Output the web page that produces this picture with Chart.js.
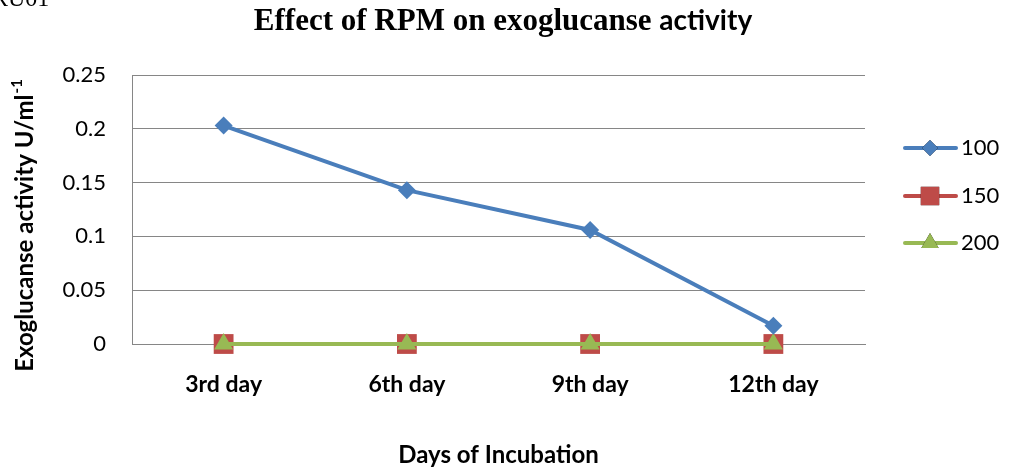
<!DOCTYPE html>
<html>
<head>
<meta charset="utf-8">
<script src="https://cdn.jsdelivr.net/npm/chart.js@4/dist/chart.umd.min.js"></script>
<style>
  html, body { margin: 0; padding: 0; background: #fff; }
  #wrap { width: 1013px; height: 471px; position: relative; }
</style>
</head>
<body>
<div id="wrap"><canvas id="c" width="1013" height="471"></canvas></div>
<script>
const categories = ['3rd day', '6th day', '9th day', '12th day'];
const seriesLabels = ['100', '150', '200'];
const rpm100 = [0.203, 0.143, 0.106, 0.017];
const rpm150 = [0, 0, 0, 0];
const rpm200 = [0, 0, 0, 0];
const yTicks = [0, 0.05, 0.1, 0.15, 0.2, 0.25];
const yTickLabels = ['0', '0.05', '0.1', '0.15', '0.2', '0.25'];

const chartTitleSerif = 'Effect of RPM on exoglucanse';
const chartTitleSans = 'activity';
const yTitleMain = 'Exoglucanse activity U/ml';
const yTitleSup = '-1';
const xTitle = 'Days of Incubation';
const cornerText = 'RU01';

const SANS = 'Lato, "Open Sans", sans-serif';
const SERIF = '"Liberation Serif", "Times New Roman", serif';

const decorPlugin = {
  id: 'decor',
  afterDraw(chart) {
    const ctx = chart.ctx;
    ctx.save();
    // corner fragment text
    ctx.fillStyle = '#000';
    ctx.font = '24px ' + SERIF;
    ctx.textBaseline = 'alphabetic';
    ctx.textAlign = 'left';
    ctx.fillText(cornerText, -8, 6);

    // mixed-font title
    const f1 = 'bold 31px ' + SERIF;
    const f2 = 'bold 28px ' + SANS;
    ctx.font = f1;
    const w1 = ctx.measureText(chartTitleSerif + ' ').width;
    ctx.font = f2;
    const w2 = ctx.measureText(chartTitleSans).width;
    const cx = 503;
    let x0 = cx - (w1 + w2) / 2;
    ctx.textBaseline = 'alphabetic';
    ctx.font = f1;
    ctx.fillText(chartTitleSerif + ' ', x0, 30);
    ctx.font = f2;
    ctx.fillText(chartTitleSans, x0 + w1, 30);

    // y axis title with superscript
    ctx.translate(25, 226);
    ctx.rotate(-Math.PI / 2);
    const fm = 'bold 24px ' + SANS;
    const fs = 'bold 15px ' + SANS;
    ctx.font = fm;
    const wm = ctx.measureText(yTitleMain).width;
    ctx.font = fs;
    const ws = ctx.measureText(yTitleSup).width;
    const sx = -(wm + ws) / 2;
    ctx.textBaseline = 'middle';
    ctx.font = fm;
    ctx.fillText(yTitleMain, sx, 0);
    ctx.font = fs;
    ctx.fillText(yTitleSup, sx + wm + 1, -8);
    ctx.setTransform(1, 0, 0, 1, 0, 0);

    // legend (line + marker)
    const legendYs = [148, 196, 243];
    chart.data.datasets.forEach((ds, i) => {
      const y = legendYs[i];
      ctx.strokeStyle = ds.borderColor;
      ctx.lineWidth = 4;
      ctx.lineCap = 'round';
      ctx.beginPath();
      ctx.moveTo(905, y);
      ctx.lineTo(956, y);
      ctx.stroke();
      Chart.helpers.drawPoint(ctx, {
        pointStyle: ds.pointStyle,
        radius: ds.legendRadius,
        borderWidth: 0,
        rotation: 0
      }, 930, y);
      ctx.fillStyle = ds.pointBackgroundColor;
      ctx.fill();
      ctx.fillStyle = '#000';
      ctx.font = '22px ' + SANS;
      ctx.textBaseline = 'middle';
      ctx.textAlign = 'left';
      ctx.fillText(ds.label, 961, y);
    });
    ctx.restore();
  }
};

new Chart(document.getElementById('c'), {
  type: 'line',
  data: {
    labels: categories,
    datasets: [
      {
        label: seriesLabels[0], data: rpm100, order: 0,
        borderColor: '#4A7EBB', backgroundColor: '#4A7EBB',
        pointBackgroundColor: '#4A7EBB', pointBorderColor: '#4A7EBB',
        borderWidth: 4, pointStyle: 'rectRot', pointRadius: 9, pointBorderWidth: 0,
        legendRadius: 8
      },
      {
        label: seriesLabels[1], data: rpm150, order: 2,
        borderColor: '#BE4B48', backgroundColor: '#BE4B48',
        pointBackgroundColor: '#BE4B48', pointBorderColor: '#BE4B48',
        borderWidth: 4, pointStyle: 'rect', pointRadius: 14, pointBorderWidth: 0,
        legendRadius: 13
      },
      {
        label: seriesLabels[2], data: rpm200, order: 1,
        borderColor: '#98B954', backgroundColor: '#98B954',
        pointBackgroundColor: '#98B954', pointBorderColor: '#98B954',
        borderWidth: 4, pointStyle: 'triangle', pointRadius: 11, pointBorderWidth: 0,
        legendRadius: 10
      }
    ]
  },
  options: {
    responsive: false,
    animation: false,
    clip: false,
    layout: { padding: { top: 75, right: 148, bottom: 0, left: 0 } },
    plugins: {
      legend: { display: false },
      title: { display: false },
      tooltip: { enabled: false }
    },
    elements: { line: { tension: 0 } },
    scales: {
      x: {
        type: 'category',
        offset: true,
        afterFit(scale) { scale.height = 127; },
        grid: { display: false, drawTicks: false },
        border: { display: true, color: '#868686', width: 1 },
        ticks: {
          padding: 27,
          color: '#000',
          font: { family: SANS, size: 23, weight: 'bold' },
          maxRotation: 0
        },
        title: {
          display: true, text: xTitle, color: '#000',
          font: { family: SANS, size: 24, weight: 'bold' },
          padding: { top: 0, bottom: 1 }
        }
      },
      y: {
        min: 0, max: 0.25,
        afterFit(scale) { scale.width = 132; },
        afterBuildTicks(scale) { scale.ticks = yTicks.map(v => ({ value: v })); },
        grid: { color: '#868686', lineWidth: 1, drawTicks: false },
        border: { display: true, color: '#868686', width: 1 },
        ticks: {
          padding: 26,
          color: '#000',
          font: { family: SANS, size: 22 },
          callback: (v) => yTickLabels[yTicks.indexOf(v)] ?? ''
        }
      }
    }
  },
  plugins: [decorPlugin]
});
</script>
</body>
</html>
